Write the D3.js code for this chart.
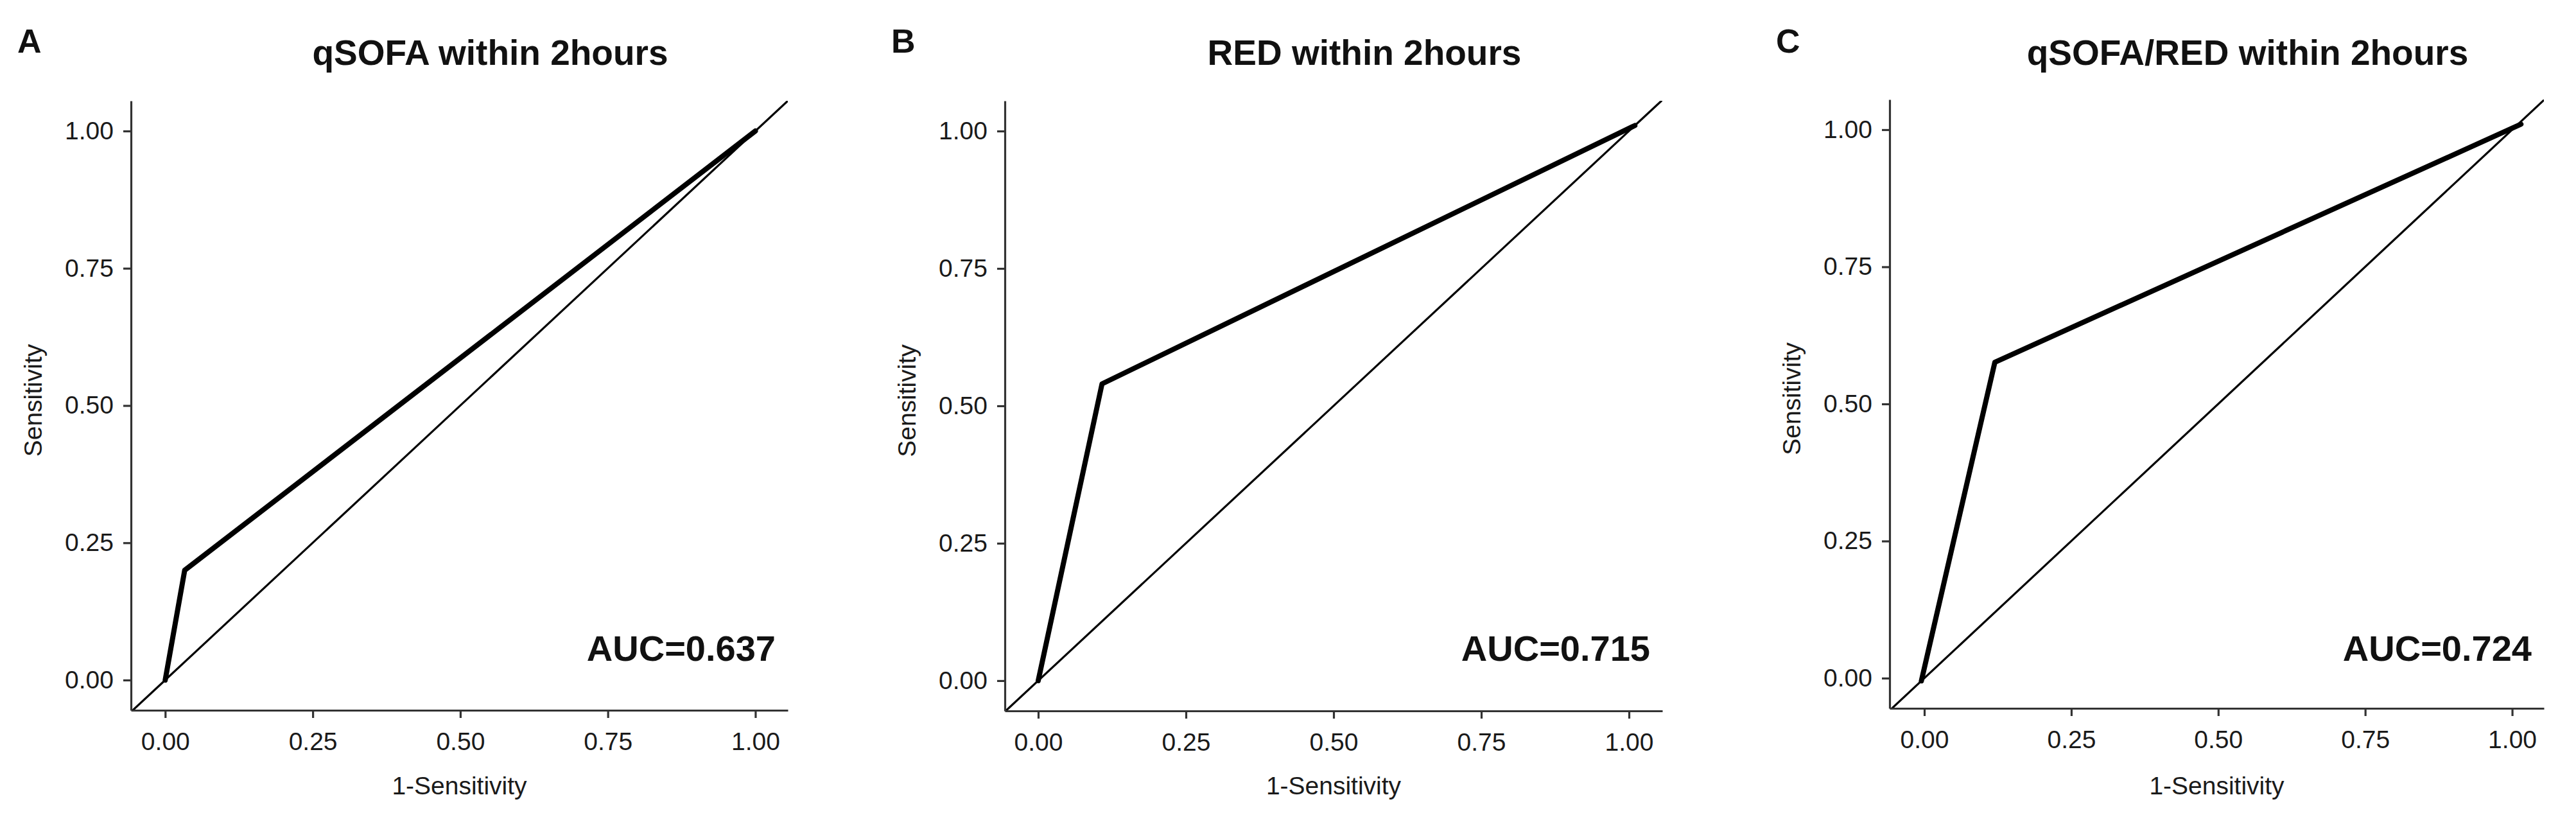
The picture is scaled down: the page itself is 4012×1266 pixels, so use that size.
<!DOCTYPE html>
<html>
<head>
<meta charset="utf-8">
<script src="https://cdn.jsdelivr.net/npm/d3@7"></script>
<style>
  html, body { margin: 0; padding: 0; background: #fff; }
  svg { display: block; }
  text { font-family: "Liberation Sans", Arial, Helvetica, sans-serif; }
</style>
</head>
<body>
<svg id="chart" width="4012" height="1266"></svg>
<script>
// ---------------- data ----------------
const panelLetters = ["A", "B", "C"];
const panelTitles = ["qSOFA within 2hours", "RED within 2hours", "qSOFA/RED within 2hours"];
const aucLabels = ["AUC=0.637", "AUC=0.715", "AUC=0.724"];

// ROC curve points (x = 1-Sensitivity, y = Sensitivity)
const rocA_x = [0, 0.033, 1.0];
const rocA_y = [0, 0.200, 1.0];
const rocB_x = [0, 0.108, 1.01];
const rocB_y = [0, 0.540, 1.01];
const rocC_x = [-0.005, 0.120, 1.015];
const rocC_y = [-0.005, 0.576, 1.01];

const tickValues = [0, 0.25, 0.5, 0.75, 1];
const tickLabels = ["0.00", "0.25", "0.50", "0.75", "1.00"];
const xAxisTitle = "1-Sensitivity";
const yAxisTitle = "Sensitivity";

// ---------------- layout ----------------
const layout = [
  { left: 204,  right: 1227, top: 157, bottom: 1106, xDom: [-0.058, 1.055],  yDom: [-0.055, 1.055] },
  { left: 1565, right: 2589, top: 157, bottom: 1107, xDom: [-0.0565, 1.0565], yDom: [-0.055, 1.055] },
  { left: 2943, right: 3962, top: 155, bottom: 1103, xDom: [-0.059, 1.054],  yDom: [-0.055, 1.055] }
];
const rocSeries = [
  rocA_x.map((x, i) => [x, rocA_y[i]]),
  rocB_x.map((x, i) => [x, rocB_y[i]]),
  rocC_x.map((x, i) => [x, rocC_y[i]])
];

const svg = d3.select("#chart");
svg.append("rect").attr("width", 4012).attr("height", 1266).attr("fill", "#fff");

layout.forEach((L, p) => {
  const x = d3.scaleLinear().domain(L.xDom).range([L.left, L.right]);
  const y = d3.scaleLinear().domain(L.yDom).range([L.bottom, L.top]);
  const g = svg.append("g");
  const cx = (L.left + L.right) / 2;

  // clip
  const clipId = "clip" + p;
  svg.append("clipPath").attr("id", clipId).append("rect")
    .attr("x", L.left).attr("y", L.top)
    .attr("width", L.right - L.left).attr("height", L.bottom - L.top);

  // diagonal reference line y = x
  const d0 = Math.min(L.xDom[0], L.yDom[0]) - 0.05;
  const d1 = Math.max(L.xDom[1], L.yDom[1]) + 0.05;
  g.append("line")
    .attr("clip-path", `url(#${clipId})`)
    .attr("x1", x(d0)).attr("y1", y(d0))
    .attr("x2", x(d1)).attr("y2", y(d1))
    .attr("stroke", "#000").attr("stroke-width", 3.2);

  // ROC curve
  const line = d3.line().x(d => x(d[0])).y(d => y(d[1]));
  g.append("path")
    .datum(rocSeries[p])
    .attr("d", line)
    .attr("fill", "none")
    .attr("stroke", "#000")
    .attr("stroke-width", 8)
    .attr("stroke-linejoin", "round")
    .attr("stroke-linecap", "round");

  // axes
  const xAxis = d3.axisBottom(x).tickValues(tickValues)
    .tickFormat((d, i) => tickLabels[i]).tickSize(12).tickPadding(22).tickSizeOuter(0);
  const yAxis = d3.axisLeft(y).tickValues(tickValues)
    .tickFormat((d, i) => tickLabels[i]).tickSize(12).tickPadding(15).tickSizeOuter(0);

  const gx = g.append("g").attr("transform", `translate(0,${L.bottom})`).call(xAxis);
  const gy = g.append("g").attr("transform", `translate(${L.left},0)`).call(yAxis);
  [gx, gy].forEach(a => {
    a.select(".domain").attr("stroke", "#333").attr("stroke-width", 3.2);
    a.selectAll(".tick line").attr("stroke", "#333").attr("stroke-width", 3.2);
    a.selectAll(".tick text")
      .attr("fill", "#1a1a1a")
      .style("font-size", "39px")
      .style("font-family", '"Liberation Sans", Arial, sans-serif');
  });

  // axis titles
  g.append("text")
    .attr("x", cx).attr("y", 1237)
    .attr("text-anchor", "middle")
    .style("font-size", "39px").attr("fill", "#1a1a1a")
    .text(xAxisTitle);
  g.append("text")
    .attr("transform", `translate(${L.left - 139},${(L.top + L.bottom) / 2 - 8}) rotate(-90)`)
    .attr("text-anchor", "middle")
    .style("font-size", "39px").attr("fill", "#1a1a1a")
    .text(yAxisTitle);

  // panel title
  g.append("text")
    .attr("x", cx + 48).attr("y", 101)
    .attr("text-anchor", "middle")
    .style("font-size", "55px").style("font-weight", "bold").attr("fill", "#111")
    .text(panelTitles[p]);

  // panel letter
  g.append("text")
    .attr("x", L.left - 177).attr("y", 82)
    .style("font-size", "52px").style("font-weight", "bold").attr("fill", "#111")
    .text(panelLetters[p]);

  // AUC annotation
  g.append("text")
    .attr("x", L.right - 19).attr("y", 1029)
    .attr("text-anchor", "end")
    .style("font-size", "56px").style("font-weight", "bold").attr("fill", "#111")
    .text(aucLabels[p]);
});
</script>
</body>
</html>
